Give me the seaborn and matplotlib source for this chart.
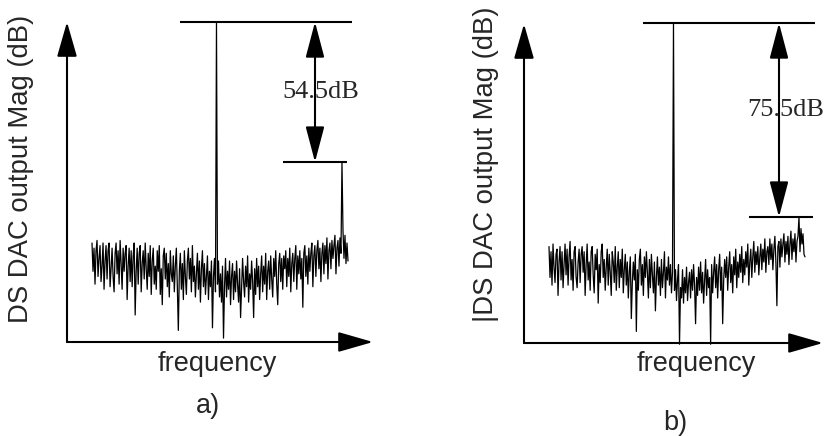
import matplotlib
matplotlib.use("Agg")
import matplotlib.pyplot as plt
import numpy as np
import pandas as pd
import seaborn as sns

# ---- data (magnitudes in dB relative to the carrier) ----
carrier_db = 0.0
gap_a_db = 54.5          # carrier-to-spur distance, panel a
gap_b_db = 75.5          # carrier-to-spur distance, panel b
carrier_bin = 124
spur_bin = 249

noise_a = [
    -86, -97, -88, -102, -89, -85, -99, -92,
    -87, -101, -95, -86, -104, -93, -87, -100,
    -89, -86, -103, -96, -88, -99, -105, -90,
    -86, -98, -89, -102, -85, -94, -104, -88,
    -97, -90, -87, -108, -95, -88, -101, -89,
    -103, -91, -86, -114, -97, -88, -102, -90,
    -87, -105, -94, -89, -100, -86, -96, -104,
    -90, -99, -87, -106, -93, -88, -102, -95,
    -104, -89, -97, -87, -106, -96, -110, -91,
    -88, -100, -90, -103, -94, -107, -89, -98,
    -101, -91, -105, -95, -88, -103, -120, -97,
    -90, -104, -94, -108, -89, -99, -106, -93,
    -88, -100, -92, -105, -87, -101, -95, -107,
    -98, -90, -104, -93, -109, -96, -89, -103,
    -94, -106, -99, -91, -108, -97, -103, -93,
    -119, -99, -92, -105, -96, -102, -93, -107,
    -98, -109, -95, -123, -103, -92, -107, -97,
    -104, -93, -110, -99, -94, -108, -97, -105,
    -93, -102, -109, -96, -115, -104, -92, -101,
    -107, -95, -103, -91, -109, -98, -104, -93,
    -101, -115, -96, -106, -92, -103, -95, -108,
    -98, -91, -105, -95, -102, -90, -108, -97,
    -93, -104, -91, -100, -107, -92, -99, -89,
    -102, -110, -94, -90, -101, -92, -104, -91,
    -96, -89, -103, -92, -99, -88, -105, -94,
    -90, -101, -92, -87, -104, -91, -98, -89,
    -100, -92, -111, -90, -87, -99, -91, -102,
    -88, -97, -90, -86, -103, -91, -87, -99,
    -89, -85, -96, -88, -101, -90, -86, -98,
    -87, -94, -84, -100, -89, -86, -96, -85,
    -92, -87, -83, -98, -88, -85, -95, -84,
    -90, -84, -81, -92, -83, -94, -86, -93,
]

noise_b = [
    -87, -99, -89, -102, -86, -95, -101, -90,
    -88, -106, -93, -87, -100, -89, -103, -94,
    -86, -98, -88, -102, -91, -85, -100, -92,
    -104, -89, -87, -99, -103, -93, -88, -101,
    -90, -87, -97, -89, -106, -94, -86, -100,
    -93, -104, -89, -87, -98, -105, -90, -96,
    -88, -109, -94, -101, -89, -86, -99, -92,
    -104, -95, -88, -102, -90, -97, -106, -89,
    -93, -101, -87, -104, -95, -89, -103, -92,
    -99, -88, -105, -96, -90, -102, -93, -107,
    -97, -91, -115, -101, -93, -100, -90, -120,
    -96, -104, -92, -88, -102, -94, -106, -91,
    -99, -89, -97, -107, -92, -103, -90, -98,
    -105, -93, -112, -99, -91, -102, -95, -106,
    -92, -103, -97, -89, -107, -95, -100, -91,
    -102, -94, -105, -97, -99, -104, -96, -108,
    -100, -94, -125, -103, -107, -96, -109, -99,
    -105, -95, -108, -101, -97, -107, -96, -104,
    -94, -102, -117, -99, -106, -95, -104, -93,
    -105, -97, -109, -100, -92, -106, -96, -103,
    -99, -125, -94, -105, -97, -91, -103, -94,
    -107, -96, -90, -104, -95, -117, -100, -92,
    -99, -91, -104, -95, -89, -101, -94, -105,
    -91, -98, -88, -103, -93, -99, -90, -97,
    -87, -101, -92, -98, -89, -95, -86, -102,
    -93, -88, -99, -91, -85, -97, -89, -94,
    -87, -98, -91, -86, -96, -88, -93, -84,
    -97, -89, -87, -94, -84, -92, -86, -96,
    -88, -83, -93, -110, -87, -85, -95, -84,
    -91, -86, -82, -93, -85, -90, -83, -94,
    -86, -81, -92, -84, -89, -82, -93, -85,
    -83, -82, -89, -80, -86, -82, -90, -91,
]

ylabel_a = "DS DAC output Mag (dB)"
ylabel_b = "|DS DAC output Mag (dB)"
xlabel = "frequency"
tags = ["a)", "b)"]


def spectrum(noise, gap):
    mag = np.array(noise, dtype=float)
    mag[carrier_bin] = carrier_db
    mag[spur_bin] = carrier_db - gap
    return pd.DataFrame({"bin": np.arange(len(mag)), "mag": mag})


sns.set_theme(style="white")
plt.rcParams["font.family"] = ["Liberation Sans", "DejaVu Sans"]

W, H = 824, 436
fig = plt.figure(figsize=(W / 100, H / 100), dpi=100)

# panel geometry in figure pixels
panels = [
    dict(x0=0, x1=412, bin0=92, zero=22, gap=gap_a_db, noise=noise_a,
         yaxis=67, xaxis=342, xtip=373, ytip=22,
         top=(180, 352), low=(283, 347), dim_x=315,
         lab=(320.5, 92), ylab=(21, 169), ylabel=ylabel_a,
         freq=(217.5, 364), tag=(208, 406)),
    dict(x0=412, x1=824, bin0=549, zero=23, gap=gap_b_db, noise=noise_b,
         yaxis=524, xaxis=343, xtip=823, ytip=24,
         top=(643, 815), low=(749, 813), dim_x=779,
         lab=(786, 110), ylab=(486, 164), ylabel=ylabel_b,
         freq=(696, 364), tag=(675, 423)),
]
PX_PER_BIN = 256 / 255
PX_PER_DB = 2.57

for i, p in enumerate(panels):
    ax = fig.add_axes([p["x0"] / W, 0, (p["x1"] - p["x0"]) / W, 1])
    ax.set_xlim((p["x0"] - p["bin0"]) / PX_PER_BIN, (p["x1"] - p["bin0"]) / PX_PER_BIN)
    ax.set_ylim(-(H - p["zero"]) / PX_PER_DB, p["zero"] / PX_PER_DB)
    ax.set_axis_off()

    fx = lambda px, p=p: (px - p["bin0"]) / PX_PER_BIN
    fy = lambda py, p=p: -(py - p["zero"]) / PX_PER_DB

    df = spectrum(p["noise"], p["gap"])
    sns.lineplot(data=df, x="bin", y="mag", ax=ax, color="black", lw=0.9,
                 estimator=None, sort=False)
    spur_db = carrier_db - p["gap"]

    # axes with arrowheads
    axis_style = dict(arrowstyle="-|>,head_length=2.16,head_width=0.62",
                      mutation_scale=10, lw=1.5, color="black",
                      shrinkA=0, shrinkB=0)
    ax.annotate("", xy=(fx(p["yaxis"]), fy(p["ytip"])),
                xytext=(fx(p["yaxis"]), fy(p["xaxis"])), arrowprops=axis_style)
    ax.annotate("", xy=(fx(p["xtip"]), fy(p["xaxis"])),
                xytext=(fx(p["yaxis"]), fy(p["xaxis"])), arrowprops=axis_style)

    # dimension lines at carrier and spur levels
    ax.plot([fx(p["top"][0]), fx(p["top"][1])], [carrier_db, carrier_db],
            color="black", lw=1.5, solid_capstyle="butt")
    ax.plot([fx(p["low"][0]), fx(p["low"][1])], [spur_db, spur_db],
            color="black", lw=1.5, solid_capstyle="butt")
    dim_style = dict(arrowstyle="<|-|>,head_length=2.2,head_width=0.58",
                     mutation_scale=10, lw=1.5, color="black",
                     shrinkA=0, shrinkB=0)
    ax.annotate("", xy=(fx(p["dim_x"]), carrier_db),
                xytext=(fx(p["dim_x"]), spur_db), arrowprops=dim_style)
    ax.text(fx(p["lab"][0]), fy(p["lab"][1]), f"{p['gap']}dB",
            ha="center", va="center", fontsize=19, family="Liberation Serif")

    fig.text(p["ylab"][0] / W, 1 - p["ylab"][1] / H, p["ylabel"], rotation=90,
             ha="center", va="center", fontsize=19.8)
    fig.text(p["freq"][0] / W, 1 - p["freq"][1] / H, xlabel,
             ha="center", va="center", fontsize=19.5)
    fig.text(p["tag"][0] / W, 1 - p["tag"][1] / H, tags[i],
             ha="center", va="center", fontsize=19.5)

fig.savefig("out.png", dpi=100)
